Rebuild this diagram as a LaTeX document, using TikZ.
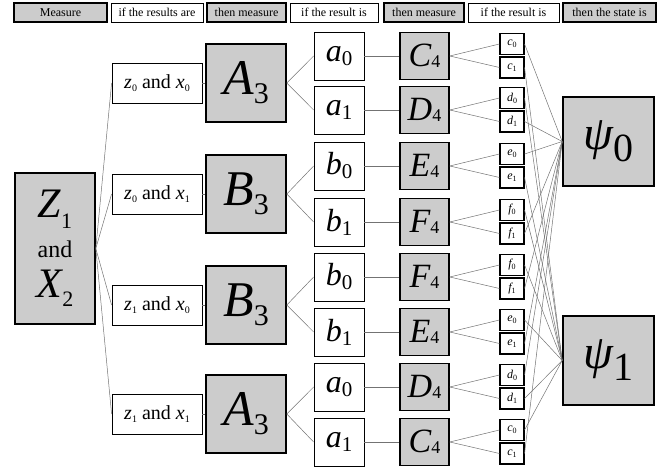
\documentclass[tikz,border=0pt]{standalone}
\usepackage{fontspec}
\setmainfont{Liberation Serif}
\newcommand{\mlab}[5]{{\fontsize{#2}{#2}\selectfont\itshape #1}\raisebox{-#5}{\fontsize{#4}{#4}\selectfont #3}}
\newcommand{\zx}[2]{\mlab{z}{20}{#1}{10}{3pt}\fontsize{20}{20}\selectfont{} and \mlab{x}{20}{#2}{10}{3pt}}
\tikzset{
  hfont/.style={font=\fontsize{12}{14}\selectfont},
  hdrg/.style={draw=black, line width=1.6pt, fill=black!20, minimum height=19pt, inner sep=0pt, hfont},
  hdrw/.style={draw=black, line width=0.8pt, fill=white, minimum height=19pt, inner sep=0pt, hfont},
  gbox/.style={draw=black, line width=1.6pt, fill=black!20, inner sep=0pt},
  wbox/.style={draw=black, line width=0.8pt, fill=white, inner sep=0pt},
  sbox/.style={draw=black, line width=1.1pt, fill=white, inner sep=0pt, minimum width=24pt, minimum height=21pt},
  conn/.style={draw=black!55, line width=0.5pt},
}
\begin{document}
\begin{tikzpicture}[x=1pt,y=-1pt]
\useasboundingbox (0,0) rectangle (662,470);
% header
\node[hdrg, minimum width=93pt] (h1) at (60.5,12.5) {Measure};
\node[hdrw, minimum width=92pt] (h2) at (157,12.5) {if the results are};
\node[hdrg, minimum width=79pt] (h3) at (246.5,12.5) {then measure};
\node[hdrw, minimum width=88pt] (h4) at (334,12.5) {if the result is};
\node[hdrg, minimum width=80pt] (h5) at (424,12.5) {then measure};
\node[hdrw, minimum width=91pt] (h6) at (513.5,12.5) {if the result is};
\node[hdrg, minimum width=93pt] (h7) at (609.5,12.5) {then the state is};
% left box
\node[gbox, minimum width=80pt, minimum height=151pt, align=center, font=\fontsize{24}{40}\selectfont] (Z) at (55,248.5)
  {\mlab{Z}{42}{1}{22}{11pt}\\{\fontsize{24}{24}\selectfont and}\\\mlab{X}{42}{2}{22}{9pt}};
% z boxes
\foreach \i/\y/\p/\q in {1/83/0/0, 2/194/0/1, 3/305/1/0, 4/414/1/1}{
  \node[wbox, minimum width=90pt, minimum height=40pt] (zb\i) at (157,\y) {\zx{\p}{\q}};
}
% big boxes
\foreach \i/\y/\L in {1/83/A, 2/194/B, 3/305/B, 4/414/A}{
  \node[gbox, minimum width=80pt, minimum height=78pt] (M\i) at (246,\y) {\mlab{\L}{50}{3}{30}{9pt}};
}
% result boxes and second measurement
\foreach \i/\y/\r/\rs/\S in {1/56/a/0/C, 2/110/a/1/D, 3/166/b/0/E, 4/222/b/1/F, 5/277/b/0/F, 6/332/b/1/E, 7/387/a/0/D, 8/442/a/1/C}{
  \node[wbox, minimum width=50pt, minimum height=48pt] (r\i) at (339,\y) {\mlab{\r}{32}{\rs}{21}{4pt}};
  \node[gbox, minimum width=49pt, minimum height=47pt] (s\i) at (424.5,\y) {\mlab{\S}{34}{4}{18}{1pt}};
}
% small boxes
\foreach \i/\y/\l in {1/56/c, 2/110/d, 3/166/e, 4/222/f, 5/277/f, 6/332/e, 7/387/d, 8/442/c}{
  \node[sbox] (t\i a) at (512,\y-12) {\mlab{\l}{12}{0}{8}{2pt}};
  \node[sbox] (t\i b) at (512,\y+11.5) {\mlab{\l}{12}{1}{8}{2pt}};
}
% psi boxes
\node[gbox, minimum width=91pt, minimum height=89pt] (psi0) at (608.5,141.5) {\mlab{ψ}{48}{0}{40}{12pt}};
\node[gbox, minimum width=91pt, minimum height=89pt] (psi1) at (608.5,360.5) {\mlab{ψ}{48}{1}{40}{12pt}};
% connectors
\foreach \i in {1,...,4}{
  \draw[conn] (Z.east) -- (zb\i.west);
  \draw[conn] (zb\i.east) -- (M\i.west);
}
\foreach \m/\u/\v in {1/1/2, 2/3/4, 3/5/6, 4/7/8}{
  \draw[conn] (M\m.east) -- (r\u.west);
  \draw[conn] (M\m.east) -- (r\v.west);
}
\foreach \i in {1,...,8}{
  \draw[conn] (r\i.east) -- (s\i.west);
  \draw[conn] (s\i.east) -- (t\i a.west);
  \draw[conn] (s\i.east) -- (t\i b.west);
}
\foreach \i/\pa/\pb in {1/0/1, 2/1/0, 3/0/1, 4/1/0, 5/1/0, 6/1/0, 7/0/1, 8/1/0}{
  \draw[conn] (t\i a.east) -- (psi\pa.west);
  \draw[conn] (t\i b.east) -- (psi\pb.west);
}
\end{tikzpicture}
\end{document}
